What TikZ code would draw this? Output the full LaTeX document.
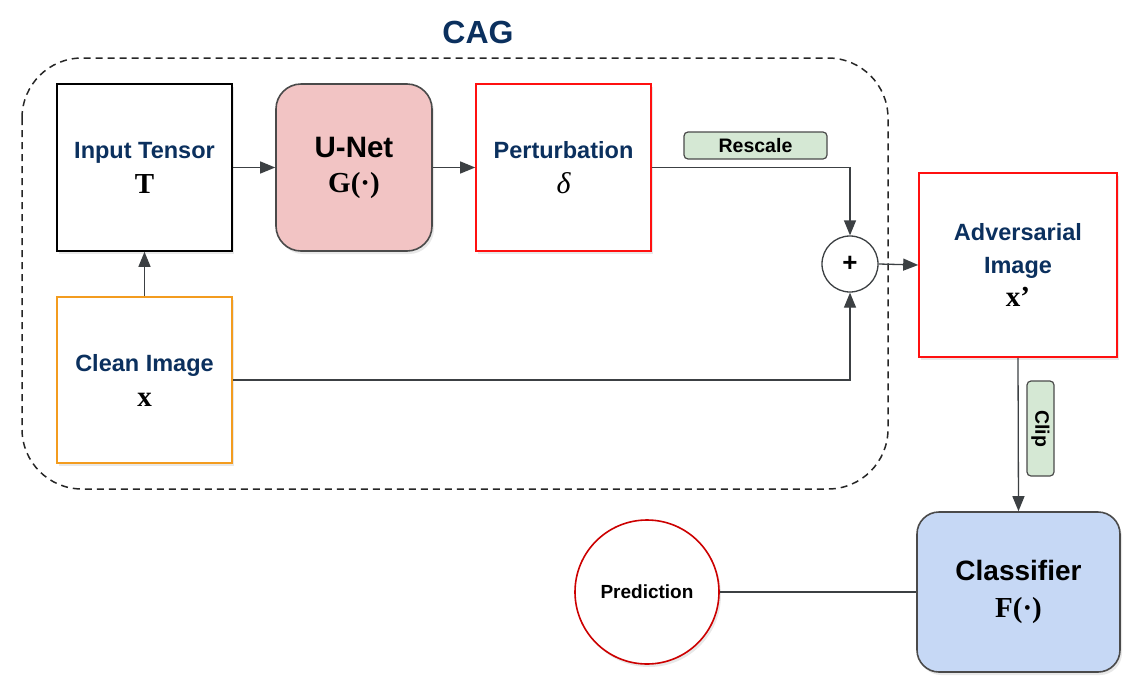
\documentclass[tikz,border=0pt]{standalone}
\usepackage{fontspec}
\setmainfont{Liberation Sans}
\newfontfamily\lab{Liberation Sans}
\newfontfamily\mth{Liberation Serif}
\usetikzlibrary{arrows.meta,shadows}
\definecolor{navy}{HTML}{0B305E}
\definecolor{linec}{HTML}{3C4043}
\definecolor{unetfill}{HTML}{F2C4C4}
\definecolor{clsfill}{HTML}{C6D8F5}
\definecolor{tagfill}{HTML}{D5E8D4}
\definecolor{redb}{HTML}{FF1010}
\definecolor{orangeb}{HTML}{F39C1F}
\definecolor{predb}{HTML}{CC0000}
\definecolor{boxb}{HTML}{4A4A4A}
\tikzset{
  shad/.style={drop shadow={opacity=0.18,shadow xshift=2pt,shadow yshift=-3pt}},
  blockbox/.style={rectangle,line width=1.6pt,fill=white,shad,align=center,inner sep=0pt},
  lbl/.style={font=\lab\bfseries\fontsize{23.5}{35}\selectfont,text=navy},
  arr/.style={draw=linec,line width=1.3pt,-{Triangle[length=15pt,width=12pt]}},
  conn/.style={draw=linec,line width=1.3pt},
  tagbox/.style={rectangle,rounded corners=4pt,draw=boxb,line width=1.2pt,fill=tagfill,font=\lab\bfseries\fontsize{19.5}{21}\selectfont,inner sep=0pt},
}
\newcommand{\mb}[1]{{\mth\bfseries\fontsize{29}{35}\selectfont\color{black}#1}}
\begin{document}
\begin{tikzpicture}[x=1pt,y=-1pt]
\useasboundingbox (0,0) rectangle (1133,686);
% container
\draw[black!85,line width=1.5pt,dash pattern=on 7pt off 5pt,rounded corners=60pt] (22,58) rectangle (888,489);
\node[font=\lab\bfseries\fontsize{32}{36}\selectfont,text=navy] (cag) at (478,32) {CAG};
% boxes
\node[blockbox,lbl,draw=black,minimum width=175pt,minimum height=167pt] (tensor) at (144.5,167.5)
  {Input Tensor\\\mb{T}};
\node[blockbox,draw=boxb,fill=unetfill,rounded corners=25pt,minimum width=156pt,minimum height=167pt,font=\lab\bfseries\fontsize{29.5}{35}\selectfont] (unet) at (354,167.5)
  {U-Net\\\mb{G(·)}};
\node[blockbox,lbl,draw=redb,minimum width=175pt,minimum height=167pt] (pert) at (563.5,167.5)
  {Perturbation\\{\mth\mdseries\itshape\fontsize{30}{35}\selectfont\color{black}δ}};
\node[blockbox,lbl,draw=orangeb,minimum width=175pt,minimum height=166pt] (clean) at (144.5,380)
  {Clean Image\\\mb{x}};
\node[circle,draw=linec,line width=1.3pt,fill=white,minimum size=56pt,inner sep=0pt,font=\lab\bfseries\fontsize{26}{28}\selectfont] (plus) at (850,264) {+};
\node[blockbox,lbl,font=\lab\bfseries\fontsize{23.5}{33}\selectfont,draw=redb,minimum width=198pt,minimum height=184pt] (adv) at (1018,265)
  {Adversarial\\Image\\\mb{x’}};
\node[blockbox,draw=boxb,fill=clsfill,rounded corners=22pt,minimum width=203pt,minimum height=160pt,font=\lab\bfseries\fontsize{28}{37}\selectfont] (cls) at (1018.5,592)
  {Classifier\\\mb{F(·)}};
\node[circle,draw=predb,line width=1.6pt,fill=white,shad,minimum size=144pt,inner sep=0pt,font=\lab\bfseries\fontsize{19}{21}\selectfont] (pred) at (647,592) {Prediction};
% tags
\node[tagbox,minimum width=143pt,minimum height=27pt] (rescale) at (755.5,145.5) {Rescale};
\node[tagbox,rotate=-90,minimum width=95pt,minimum height=27pt] (clip) at (1040.5,428.5) {Clip};
% connectors
\draw[arr] (clean.north) -- (tensor.south);
\draw[arr] (tensor.east) -- (unet.west);
\draw[arr] (unet.east) -- (pert.west);
\draw[arr] (pert.east) -| (plus.north);
\draw[arr] (clean.east) -| (plus.south);
\draw[arr] (plus.east) -- (adv.west);
\draw[arr] (adv.south) -- (cls.north);
\draw[conn] (pred.east) -- (cls.west);
\end{tikzpicture}
\end{document}
